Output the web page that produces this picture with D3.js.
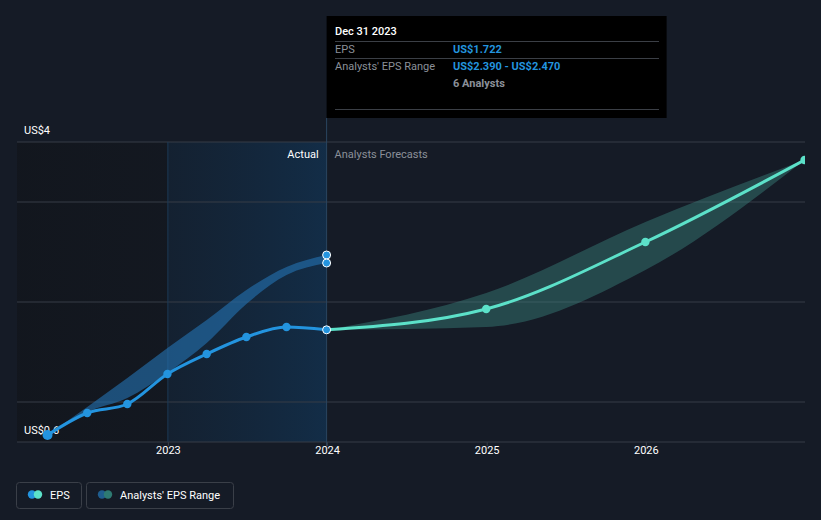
<!DOCTYPE html>
<html>
<head>
<meta charset="utf-8">
<script src="https://cdn.jsdelivr.net/npm/d3@7"></script>
<style>
  html, body { margin: 0; padding: 0; background: #151b26; }
  svg { display: block; font-family: Roboto, "Noto Sans", sans-serif; }
</style>
</head>
<body>
<svg id="chart" width="821" height="520"></svg>
<script>
// ---- data ----
const pastDates = ["2022-03-31","2022-06-30","2022-09-30","2022-12-31","2023-03-31","2023-06-30","2023-09-30","2023-12-31"];
const pastEps   = [0.67, 0.89, 0.98, 1.28, 1.48, 1.65, 1.75, 1.722];
const pastRangeLow  = [0.67, 0.90, 1.04, 1.29, 1.59, 1.98, 2.27, 2.39];
const pastRangeHigh = [0.67, 0.95, 1.24, 1.54, 1.82, 2.12, 2.35, 2.47];
const fcDates = ["2023-12-31","2024-12-31","2025-12-31","2026-12-31"];
const fcEps   = [1.722, 1.93, 2.60, 3.42];
const fcLow   = [1.722, 1.75, 2.32, 3.42];
const fcHigh  = [1.722, 2.09, 2.80, 3.42];
const yTickValues = [0.6, 1, 2, 3, 3.6];
const yLabelValues = [3.6, 0.6];
const yLabelTexts = ["US$4", "US$0.6"];
const xTickDates = ["2023-01-01","2024-01-01","2025-01-01","2026-01-01"];
const xTickLabels = ["2023","2024","2025","2026"];

const parse = d3.timeParse("%Y-%m-%d");
const past = pastDates.map((d,i)=>({date:parse(d), eps:pastEps[i], lo:pastRangeLow[i], hi:pastRangeHigh[i]}));
const fc = fcDates.map((d,i)=>({date:parse(d), eps:fcEps[i], lo:fcLow[i], hi:fcHigh[i]}));

const svg = d3.select("#chart");
const x = d3.scaleTime().domain([parse("2022-01-20"), parse("2027-01-01")]).range([17, 805]);
const y = d3.scaleLinear().domain([0.6, 3.6]).range([442, 142]);

const defs = svg.append("defs");
const g1 = defs.append("linearGradient").attr("id","pastGrad").attr("x1","0").attr("x2","1").attr("y1","0").attr("y2","0");
g1.append("stop").attr("offset","0%").attr("stop-color","#13263a").attr("stop-opacity",0.55);
g1.append("stop").attr("offset","100%").attr("stop-color","#12304d").attr("stop-opacity",0.85);
const g0 = defs.append("linearGradient").attr("id","leftGrad").attr("x1","0").attr("x2","1").attr("y1","0").attr("y2","0");
g0.append("stop").attr("offset","0%").attr("stop-color","#12161d").attr("stop-opacity",0.9);
g0.append("stop").attr("offset","100%").attr("stop-color","#12161d").attr("stop-opacity",0.6);
defs.append("clipPath").attr("id","clip").append("rect")
  .attr("x",0).attr("y",0).attr("width",805).attr("height",520);

const x2023 = x(parse(xTickDates[0])), xNow = x(parse("2023-12-31"));
// background regions
svg.append("rect").attr("x",17).attr("y",142).attr("width",x2023-17).attr("height",300).attr("fill","url(#leftGrad)");
svg.append("rect").attr("x",x2023).attr("y",142).attr("width",xNow-x2023).attr("height",300).attr("fill","url(#pastGrad)");

// grid lines
svg.append("g").selectAll("line").data(yTickValues).join("line")
  .attr("x1",17).attr("x2",805).attr("y1",d=>y(d)).attr("y2",d=>y(d))
  .attr("stroke", "#363c47").attr("stroke-width",1);

// vertical lines
svg.append("line").attr("x1",x2023).attr("x2",x2023).attr("y1",142).attr("y2",442)
  .attr("stroke","#1c3a56").attr("stroke-width",1);
svg.append("line").attr("x1",xNow).attr("x2",xNow).attr("y1",118).attr("y2",446)
  .attr("stroke","#2a4560").attr("stroke-width",1);

// x axis
const xAxis = d3.axisBottom(x).tickValues(xTickDates.map(parse)).tickSize(4)
  .tickFormat((d,i)=>xTickLabels[i]);
const ax = svg.append("g").attr("transform","translate(0,442)").call(xAxis);
ax.select(".domain").remove();
ax.selectAll(".tick line").attr("stroke","#363c47");
ax.selectAll(".tick text").attr("fill","#ffffff").attr("font-size",11).attr("dy","0.45em")
  .attr("font-family","Roboto, sans-serif");

// y labels
svg.append("g").selectAll("text").data(yLabelValues).join("text")
  .attr("x",24).attr("y",d=>y(d)-8.5).attr("fill","#ffffff").attr("font-size",11)
  .text((d,i)=>yLabelTexts[i]);

const plot = svg.append("g").attr("clip-path","url(#clip)");

// past range band
const areaPast = d3.area().x(d=>x(d.date)).y0(d=>y(d.lo)).y1(d=>y(d.hi)).curve(d3.curveMonotoneX);
plot.append("path").datum(past).attr("d",areaPast).attr("fill","#2471b0").attr("fill-opacity",0.62);

// forecast band
const areaFc = d3.area().x(d=>x(d.date)).y0(d=>y(d.lo)).y1(d=>y(d.hi)).curve(d3.curveMonotoneX);
plot.append("path").datum(fc).attr("d",areaFc).attr("fill","#3f8f86").attr("fill-opacity",0.4);

// past eps line
const linePast = d3.line().x(d=>x(d.date)).y(d=>y(d.eps)).curve(d3.curveMonotoneX);
plot.append("path").datum(past).attr("d",linePast).attr("fill","none").attr("stroke","#2394df").attr("stroke-width",3);

// forecast line
const lineFc = d3.line().x(d=>x(d.date)).y(d=>y(d.eps)).curve(d3.curveMonotoneX);
plot.append("path").datum(fc).attr("d",lineFc).attr("fill","none").attr("stroke","#5ce1c9").attr("stroke-width",3);

// past points
plot.append("g").selectAll("circle").data(past.slice(0,-1)).join("circle")
  .attr("cx",d=>x(d.date)).attr("cy",d=>y(d.eps)).attr("r",(d,i)=>i===0?5:4.2).attr("fill","#2394df");
// forecast points
plot.append("g").selectAll("circle").data(fc.slice(1)).join("circle")
  .attr("cx",d=>x(d.date)).attr("cy",d=>y(d.eps)).attr("r",4.2).attr("fill","#5ce1c9");
// highlighted points at Dec 31 2023
const last = past[past.length-1];
[last.hi, last.lo, last.eps].forEach(v=>{
  plot.append("circle").attr("cx",x(last.date)).attr("cy",y(v)).attr("r",4)
    .attr("fill","#2394df").attr("stroke","#ffffff").attr("stroke-width",1);
});

// Actual / Forecast labels
svg.append("text").attr("x",xNow-8).attr("y",158).attr("text-anchor","end").attr("fill","#ffffff").attr("font-size",11).text("Actual");
svg.append("text").attr("x",xNow+8).attr("y",158).attr("fill","#8b9099").attr("font-size",11).text("Analysts Forecasts");

// tooltip
const tt = svg.append("g");
tt.append("rect").attr("x",xNow).attr("y",16).attr("width",340).attr("height",102).attr("fill","#000000");
tt.append("text").attr("x",335).attr("y",35).attr("fill","#ffffff").attr("font-size",11).attr("font-weight",500).text("Dec 31 2023");
[41.5,58.5,109.5].forEach(yy=>tt.append("line").attr("x1",335).attr("x2",659).attr("y1",yy).attr("y2",yy).attr("stroke","#3b3f46"));
tt.append("text").attr("x",335).attr("y",52.5).attr("fill","#8b9099").attr("font-size",11).text("EPS");
tt.append("text").attr("x",453).attr("y",52.5).attr("fill","#2394df").attr("font-size",11).attr("font-weight",700).text("US$" + last.eps.toFixed(3));
tt.append("text").attr("x",335).attr("y",70).attr("fill","#8b9099").attr("font-size",11).text("Analysts' EPS Range");
tt.append("text").attr("x",453).attr("y",70).attr("fill","#2394df").attr("font-size",11).attr("font-weight",700).text("US$" + last.lo.toFixed(3) + " - US$" + last.hi.toFixed(3));
tt.append("text").attr("x",453).attr("y",87).attr("fill","#8b9099").attr("font-size",11).attr("font-weight",700).text("6 Analysts");

// legend
const lg = svg.append("g");
lg.append("rect").attr("x",16.5).attr("y",482.5).attr("width",65).attr("height",26).attr("rx",3).attr("fill","none").attr("stroke","#3a3f48");
lg.append("circle").attr("cx",32).attr("cy",494.5).attr("r",4.2).attr("fill","#2394df");
lg.append("circle").attr("cx",38).attr("cy",494.5).attr("r",4.2).attr("fill","#5ce1c9");
lg.append("text").attr("x",50).attr("y",498.5).attr("fill","#ffffff").attr("font-size",11).text("EPS");
lg.append("rect").attr("x",86.5).attr("y",482.5).attr("width",147).attr("height",26).attr("rx",3).attr("fill","none").attr("stroke","#3a3f48");
lg.append("circle").attr("cx",102).attr("cy",494.5).attr("r",4.2).attr("fill","#1f5d8e");
lg.append("circle").attr("cx",108).attr("cy",494.5).attr("r",4.2).attr("fill","#2e7a72");
lg.append("text").attr("x",120).attr("y",498.5).attr("fill","#ffffff").attr("font-size",11).text("Analysts' EPS Range");
</script>
</body>
</html>
